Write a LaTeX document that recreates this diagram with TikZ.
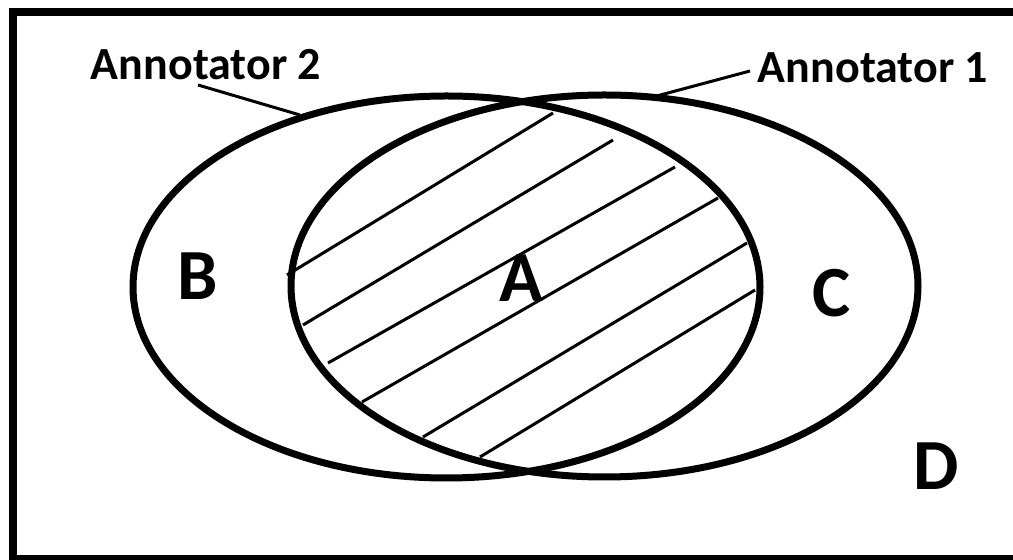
\documentclass[tikz,border=0pt]{standalone}
\usepackage{fontspec}
\setmainfont{Carlito}
\begin{document}
\begin{tikzpicture}[x=0.5pt,y=-0.5pt,
  setline/.style={line width=3.5pt},
  hatchline/.style={line width=1.5pt},
  leader/.style={line width=1.5pt},
  annot/.style={font=\bfseries\fontsize{23}{27}\selectfont, anchor=base, inner sep=0pt},
  region/.style={font=\bfseries\fontsize{36}{42}\selectfont, anchor=base, inner sep=0pt}]
\useasboundingbox (0,0) rectangle (1013,560);
\clip (0,0) rectangle (1013,560);
\fill[white] (0,0) rectangle (1013,560);
% outer frame (right side lies outside the picture)
\draw[line width=4pt] (1040,12.5) -- (13,12.5) -- (13,559) -- (1040,559);
% ellipses
\draw[setline] (446.5,287) ellipse [x radius=156.75pt, y radius=95.5pt];
\draw[setline] (604.5,286) ellipse [x radius=156.75pt, y radius=95.5pt];
% hatch lines
\draw[hatchline] (287,275) -- (553,113);
\draw[hatchline] (303,325) -- (613,140);
\draw[hatchline] (328,363) -- (675,167);
\draw[hatchline] (362,402) -- (718,198);
\draw[hatchline] (423,437) -- (747,243);
\draw[hatchline] (480,457) -- (755,290);
% labels
\node[annot] (ann2) at (206,80) {Annotator 2};
\node[annot] (ann1) at (873,83) {Annotator 1};
\coordinate (l2a) at (198,85);
\coordinate (l2b) at (300,115);
\coordinate (l1a) at (750,71);
\coordinate (l1b) at (653,97);
\draw[leader] (l2a) -- (l2b);
\draw[leader] (l1a) -- (l1b);
\node[region] (A) at (521,302) {A};
\node[region] (B) at (197.5,300) {B};
\node[region] (C) at (831.5,317) {C};
\node[region] (D) at (936.5,490) {D};
\end{tikzpicture}
\end{document}
